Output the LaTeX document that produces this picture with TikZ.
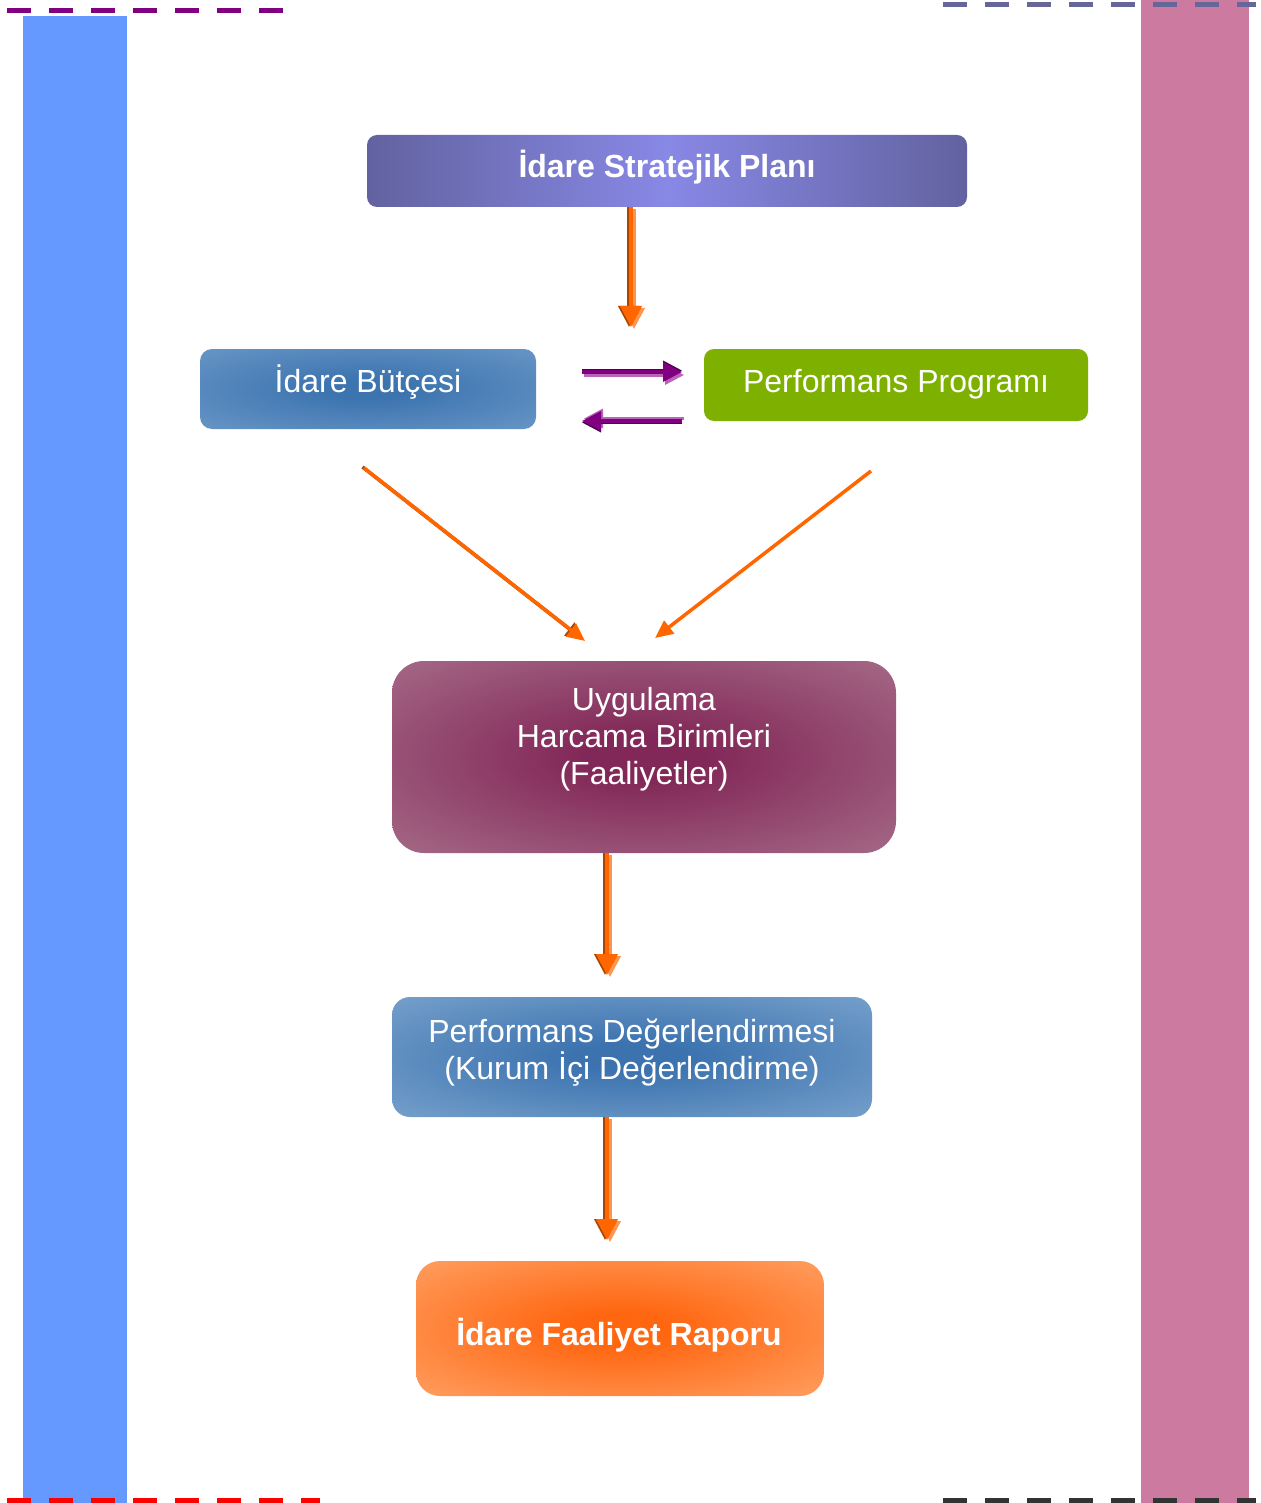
\documentclass[tikz,border=0pt]{standalone}
\usepackage{fontspec}
\setmainfont{Liberation Sans}
\usetikzlibrary{arrows.meta}
\definecolor{barblue}{RGB}{102,153,255}
\definecolor{barpink}{RGB}{204,122,160}
\definecolor{dpurple}{RGB}{128,0,128}
\definecolor{dslate}{RGB}{102,102,153}
\definecolor{dred}{RGB}{255,0,0}
\definecolor{dgrey}{RGB}{51,51,51}
\definecolor{oarrow}{RGB}{255,102,0}
\definecolor{oarrowdark}{RGB}{170,70,0}
\definecolor{oarrowlight}{RGB}{255,150,80}
\definecolor{parrow}{RGB}{128,0,128}
\definecolor{parrowdark}{RGB}{80,0,80}
\definecolor{parrowlight}{RGB}{185,100,185}
\definecolor{progreen}{RGB}{126,176,0}
\colorlet{glowin}{white}
\colorlet{glowout}{black}
\pgfdeclareradialshading[glowin,glowout]{myglow}{\pgfpoint{0bp}{0bp}}{%
  color(0bp)=(glowin); color(6bp)=(glowin); color(36bp)=(glowout); color(50bp)=(glowout)}
\tikzset{
  box/.style={rounded corners=#1, inner sep=0pt, draw=none},
  glow/.style 2 args={/utils/exec={\colorlet{glowin}{#1}\colorlet{glowout}{#2}}, shading=myglow},
  txt/.style={text=white, font=\fontsize{32}{37}\selectfont, align=center, inner sep=0pt},
  btxt/.style={text=white, font=\fontsize{32}{37}\selectfont\bfseries, align=center, inner sep=0pt},
  dashline/.style={line width=4.5pt, dash pattern=on 24pt off 18pt},
  omain/.style={draw=oarrow, line width=4pt, -{Triangle[length=21pt,width=21pt]}},
  odark/.style={draw=oarrowdark, line width=4pt, -{Triangle[length=21pt,width=21pt]}},
  olight/.style={draw=oarrowlight, line width=4pt, -{Triangle[length=21pt,width=21pt]}},
  othin/.style={draw=oarrow, line width=3.5pt, -{Triangle[length=18pt,width=16pt]}},
  othindark/.style={draw=oarrowdark, line width=3.5pt, -{Triangle[length=18pt,width=16pt]}},
  pmain/.style={draw=parrow, line width=3.5pt, -{Triangle[length=19pt,width=19pt]}},
  pdark/.style={draw=parrowdark, line width=3.5pt, -{Triangle[length=19pt,width=19pt]}},
  plight/.style={draw=parrowlight, line width=3.5pt, -{Triangle[length=19pt,width=19pt]}},
}
\begin{document}
\begin{tikzpicture}[x=1pt,y=-1pt]
\useasboundingbox (0,0) rectangle (1260,1503);
\fill[white] (0,0) rectangle (1260,1503);
% side bars
\fill[barblue] (23,16) rectangle (127,1503);
\fill[barpink] (1141,0) rectangle (1249,1503);
% dashed lines
\draw[dashline, draw=dpurple] (7,10.5) -- (283,10.5);
\draw[dashline, draw=dslate] (943,4.5) -- (1256,4.5);
\draw[dashline, draw=dred] (7,1500.5) -- (320,1500.5);
\draw[dashline, draw=dgrey] (943,1500.5) -- (1256,1500.5);

% boxes
\node[box=10, minimum width=600pt, minimum height=72pt,
      left color={rgb,255:red,98;green,98;blue,160}, right color={rgb,255:red,98;green,98;blue,160},
      middle color={rgb,255:red,136;green,136;blue,230}] (plan) at (667,171) {};
\node[btxt, anchor=base] (plantxt) at (667,178) {İdare Stratejik Planı};

\node[box=12, minimum width=336pt, minimum height=80pt,
      glow={rgb,255:red,60;green,116;blue,175}{rgb,255:red,104;green,149;blue,198}] (butce) at (368,389) {};
\node[txt, anchor=base] (butcetxt) at (368,392) {İdare Bütçesi};

\node[box=10, minimum width=384pt, minimum height=72pt, fill=progreen] (prog) at (896,385) {};
\node[txt, anchor=base] (progtxt) at (896,392) {Performans Programı};

\node[box=32, minimum width=504pt, minimum height=192pt,
      glow={rgb,255:red,130;green,40;blue,88}{rgb,255:red,165;green,106;blue,135}] (uyg) at (644,757) {};
\node[txt] (uygtxt) at (644,739) {Uygulama\\Harcama Birimleri\\(Faaliyetler)};

\node[box=18, minimum width=480pt, minimum height=120pt,
      glow={rgb,255:red,60;green,115;blue,175}{rgb,255:red,118;green,160;blue,203}] (deg) at (632,1057) {};
\node[txt] (degtxt) at (632,1053) {Performans Değerlendirmesi\\(Kurum İçi Değerlendirme)};

\node[box=24, minimum width=408pt, minimum height=135pt,
      glow={rgb,255:red,255;green,102;blue,16}{rgb,255:red,255;green,158;blue,96}] (rapor) at (620,1328.5) {};
\node[btxt, anchor=base] (raportxt) at (619,1345) {İdare Faaliyet Raporu};

% arrow end points
\coordinate (a1e) at (631,327);
\coordinate (prs) at (582,372);
\coordinate (pre) at (682,372);
\coordinate (pls) at (682,421);
\coordinate (ple) at (582,421);
\coordinate (d1s) at (364,468);
\coordinate (d1e) at (585,641);
\coordinate (d2s) at (871,471);
\coordinate (d2e) at (655,638);
\coordinate (a2e) at (607,975);
\coordinate (a3e) at (607,1240);

% plan -> middle
\draw[olight, transform canvas={xshift=3pt,yshift=-2pt}] (plan.south -| a1e) -- (a1e);
\draw[odark, transform canvas={xshift=-2pt}] (plan.south -| a1e) -- (a1e);
\draw[omain] (plan.south -| a1e) -- (a1e);

% purple arrows
\draw[plight, transform canvas={xshift=2pt,yshift=-3pt}] (prs) -- (pre);
\draw[pdark, transform canvas={yshift=1.5pt}] (prs) -- (pre);
\draw[pmain] (prs) -- (pre);
\draw[plight, transform canvas={xshift=2pt,yshift=2.5pt}] (pls) -- (ple);
\draw[pdark, transform canvas={yshift=-1.5pt}] (pls) -- (ple);
\draw[pmain] (pls) -- (ple);

% diagonal arrows
\draw[othindark, transform canvas={xshift=-1.5pt,yshift=1pt}] (d1s) -- (d1e);
\draw[othin] (d1s) -- (d1e);
\draw[othin] (d2s) -- (d2e);

% uyg -> deg
\draw[olight, transform canvas={xshift=3pt,yshift=-2pt}] (uyg.south -| a2e) -- (a2e);
\draw[odark, transform canvas={xshift=-2pt}] (uyg.south -| a2e) -- (a2e);
\draw[omain] (uyg.south -| a2e) -- (a2e);

% deg -> rapor
\draw[olight, transform canvas={xshift=3pt,yshift=-2pt}] (deg.south -| a3e) -- (a3e);
\draw[odark, transform canvas={xshift=-2pt}] (deg.south -| a3e) -- (a3e);
\draw[omain] (deg.south -| a3e) -- (a3e);
\end{tikzpicture}
\end{document}
